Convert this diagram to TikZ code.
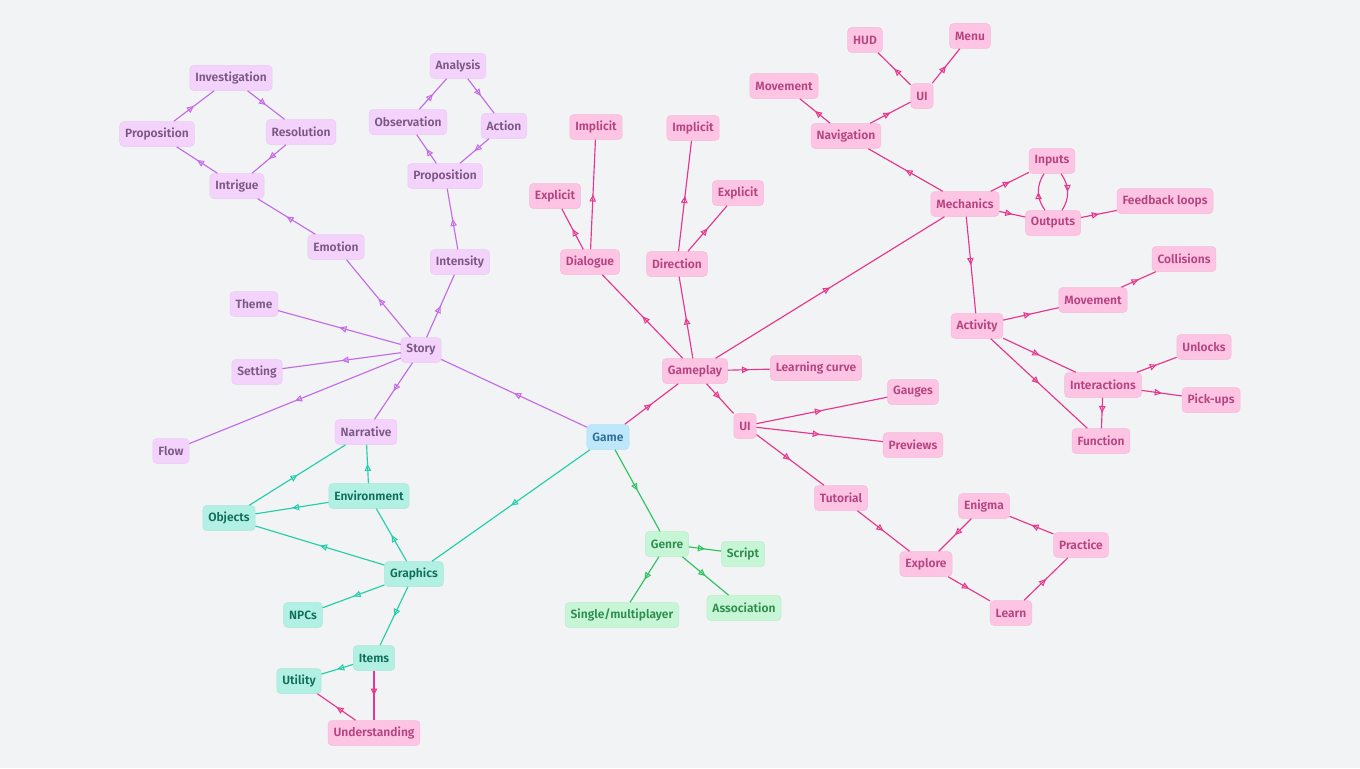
\documentclass[tikz,border=0pt]{standalone}
\usepackage{fontspec}
\setmainfont{Fira Sans}[BoldFont={Fira Sans SemiBold}]
\usetikzlibrary{arrows.meta,decorations.markings}
\definecolor{bg}{HTML}{F2F3F5}
\definecolor{pfill}{HTML}{F3D3FC}
\definecolor{ptext}{HTML}{7B5784}
\definecolor{pedge}{HTML}{C46BE8}
\definecolor{kfill}{HTML}{FDC4E4}
\definecolor{ktext}{HTML}{B4437F}
\definecolor{kedge}{HTML}{E8358E}
\definecolor{tfill}{HTML}{B2F0E3}
\definecolor{ttext}{HTML}{0F6E5A}
\definecolor{tedge}{HTML}{22CFAA}
\definecolor{gfill}{HTML}{C6F6D5}
\definecolor{gtext}{HTML}{2F8C4F}
\definecolor{gedge}{HTML}{2DC35F}
\definecolor{bfill}{HTML}{BFE7FC}
\definecolor{btext}{HTML}{2D6E98}
\tikzset{
  box/.style={rounded corners=4bp, inner xsep=5.5bp, inner ysep=0bp, minimum height=25bp,
    font=\fontsize{12bp}{14bp}\selectfont\bfseries, line width=0.5bp},
  pnode/.style={box, fill=pfill, draw=pfill!96!black, text=ptext},
  knode/.style={box, fill=kfill, draw=kfill!96!black, text=ktext},
  tnode/.style={box, fill=tfill, draw=tfill!96!black, text=ttext},
  gnode/.style={box, fill=gfill, draw=gfill!96!black, text=gtext},
  bnode/.style={box, fill=bfill, draw=bfill!96!black, text=btext},
  midarrow/.style={postaction={decorate, decoration={markings,
     mark=at position 0.5 with {\arrow{Triangle[open, length=7bp, width=6.5bp, line width=1bp]}}}}},
  edge/.style={line width=1.15bp, midarrow},
  pe/.style={edge, draw=pedge},
  ke/.style={edge, draw=kedge},
  te/.style={edge, draw=tedge},
  ge/.style={edge, draw=gedge},
}
\begin{document}
\begin{tikzpicture}[x=1bp, y=-1bp]
\useasboundingbox (0,0) rectangle (1360,768);
\fill[bg] (0,0) rectangle (1360,768);

% Story branch
\node[pnode] (iv) at (231,78) {Investigation};
\node[pnode] (prop1) at (157,134) {Proposition};
\node[pnode] (res) at (301,132) {Resolution};
\node[pnode] (intr) at (237,186) {Intrigue};
\node[pnode] (emo) at (336,247) {Emotion};
\node[pnode] (ana) at (458,66) {Analysis};
\node[pnode] (obs) at (408,122) {Observation};
\node[pnode] (act) at (504,126) {Action};
\node[pnode] (prop2) at (445,176) {Proposition};
\node[pnode] (inten) at (460,262) {Intensity};
\node[pnode] (theme) at (254,304) {Theme};
\node[pnode] (setting) at (257,372) {Setting};
\node[pnode] (flow) at (171,451) {Flow};
\node[pnode] (story) at (421,350) {Story};
\node[pnode] (narr) at (366,432) {Narrative};

\node[bnode] (game) at (608,437) {Game};

% Graphics branch
\node[tnode] (objs) at (229,518) {Objects};
\node[tnode] (env) at (369,496) {Environment};
\node[tnode] (graph) at (414,574) {Graphics};
\node[tnode] (npcs) at (303,615) {NPCs};
\node[tnode] (items) at (374,658) {Items};
\node[tnode] (util) at (299,681) {Utility};
\node[knode] (under) at (374,733) {Understanding};

% Genre branch
\node[gnode] (genre) at (667,544) {Genre};
\node[gnode] (script) at (743,554) {Script};
\node[gnode] (single) at (622,615) {Single/multiplayer};
\node[gnode] (assoc) at (744,608) {Association};

% Gameplay branch
\node[knode] (gp) at (695,371) {Gameplay};
\node[knode] (lc) at (816,368) {Learning curve};
\node[knode] (dial) at (590,262) {Dialogue};
\node[knode] (exp1) at (555,196) {Explicit};
\node[knode] (imp1) at (596,127) {Implicit};
\node[knode] (dir) at (677,264) {Direction};
\node[knode] (imp2) at (693,128) {Implicit};
\node[knode] (exp2) at (738,193) {Explicit};
\node[knode] (ui) at (745,426) {UI};
\node[knode] (gauges) at (913,392) {Gauges};
\node[knode] (prev) at (913,445) {Previews};
\node[knode] (tut) at (841,498) {Tutorial};
\node[knode] (expl) at (926,564) {Explore};
\node[knode] (enig) at (984,506) {Enigma};
\node[knode] (prac) at (1081,545) {Practice};
\node[knode] (learn) at (1011,613) {Learn};
\node[knode] (mech) at (965,204) {Mechanics};
\node[knode] (nav) at (846,136) {Navigation};
\node[knode] (mov1) at (784,86) {Movement};
\node[knode] (ui2) at (922,96) {UI};
\node[knode] (hud) at (865,40) {HUD};
\node[knode] (menu) at (970,36) {Menu};
\node[knode] (inp) at (1052,161) {Inputs};
\node[knode] (outp) at (1053,223) {Outputs};
\node[knode] (fb) at (1165,201) {Feedback loops};
\node[knode] (actv) at (977,326) {Activity};
\node[knode] (mov2) at (1093,300) {Movement};
\node[knode] (coll) at (1184,259) {Collisions};
\node[knode] (inter) at (1103,385) {Interactions};
\node[knode] (unl) at (1204,347) {Unlocks};
\node[knode] (pick) at (1211,400) {Pick-ups};
\node[knode] (func) at (1101,441) {Function};

% Story edges
\draw[pe] (game) -- (story);
\draw[pe] (story) -- (emo);
\draw[pe] (emo) -- (intr);
\draw[pe] (intr) -- (prop1);
\draw[pe] (prop1) -- (iv);
\draw[pe] (iv) -- (res);
\draw[pe] (res) -- (intr);
\draw[pe] (story) -- (inten);
\draw[pe] (inten) -- (prop2);
\draw[pe] (prop2) -- (obs);
\draw[pe] (obs) -- (ana);
\draw[pe] (ana) -- (act);
\draw[pe] (act) -- (prop2);
\draw[pe] (story) -- (theme);
\draw[pe] (story) -- (setting);
\draw[pe] (story) -- (flow);
\draw[pe] (story) -- (narr);

% Graphics edges
\draw[te] (game) -- (graph);
\draw[te] (graph) -- (env);
\draw[te] (env) -- (narr);
\draw[te] (env) -- (objs);
\draw[te] (objs) -- (narr);
\draw[te] (graph) -- (objs);
\draw[te] (graph) -- (npcs);
\draw[te] (graph) -- (items);
\draw[te] (items) -- (util);
\draw[ke] (items) -- (under);
\draw[ke] (under) -- (util);

% Genre edges
\draw[ge] (game) -- (genre);
\draw[ge] (genre) -- (script);
\draw[ge] (genre) -- (single);
\draw[ge] (genre) -- (assoc);

% Gameplay edges
\draw[ke] (game) -- (gp);
\draw[ke] (gp) -- (dial);
\draw[ke] (dial) -- (exp1);
\draw[ke] (dial) -- (imp1);
\draw[ke] (gp) -- (dir);
\draw[ke] (dir) -- (imp2);
\draw[ke] (dir) -- (exp2);
\draw[ke] (gp) -- (lc);
\draw[ke] (gp) -- (ui);
\draw[ke] (ui) -- (gauges);
\draw[ke] (ui) -- (prev);
\draw[ke] (ui) -- (tut);
\draw[ke] (tut) -- (expl);
\draw[ke] (expl) -- (learn);
\draw[ke] (learn) -- (prac);
\draw[ke] (prac) -- (enig);
\draw[ke] (enig) -- (expl);
\draw[ke] (gp) -- (mech);
\draw[ke] (mech) -- (nav);
\draw[ke] (nav) -- (mov1);
\draw[ke] (nav) -- (ui2);
\draw[ke] (ui2) -- (hud);
\draw[ke] (ui2) -- (menu);
\draw[ke] (mech) -- (inp);
\draw[ke] (mech) -- (outp);
\draw[ke] ([xshift=-8bp]outp.north) to[bend left=35] ([xshift=-8bp]inp.south);
\draw[ke] ([xshift=9bp]inp.south) to[bend left=35] ([xshift=9bp]outp.north);
\draw[ke] (outp) -- (fb);
\draw[ke] (mech) -- (actv);
\draw[ke] (actv) -- (mov2);
\draw[ke] (mov2) -- (coll);
\draw[ke] (actv) -- (inter);
\draw[ke] (inter) -- (unl);
\draw[ke] (inter) -- (pick);
\draw[ke] (inter) -- (func);
\draw[ke] (actv) -- (func);
\end{tikzpicture}
\end{document}
